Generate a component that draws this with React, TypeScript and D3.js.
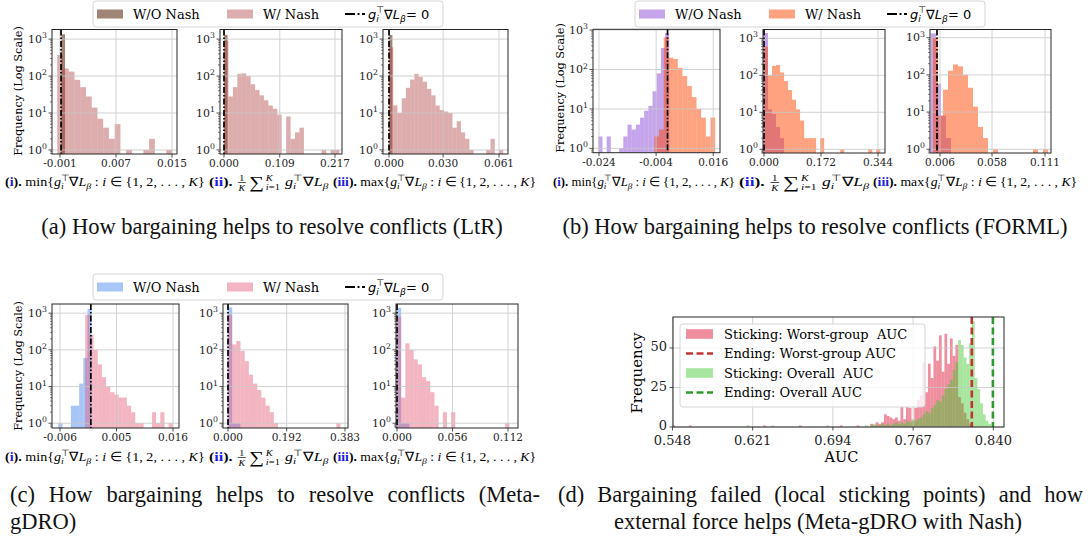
import React, { useLayoutEffect, useRef, useState } from 'react';
import * as d3 from 'd3';

const W = 1090;
const H = 541;
const SERIF = "'DejaVu Serif', serif";
const SANS = "'DejaVu Sans', sans-serif";
const TIMES = "'Liberation Serif', 'Times New Roman', serif";
const LINK = '#1c1ce6';

const fmt3 = d3.formatLocale({ decimal: '.', thousands: ',', grouping: [3], currency: ['', ''], minus: '-' }).format('.3f');

// ---------- (a) LtR : histogram bins (start, bin width, counts) ----------
const ltrMinWo = { start: -0.00081, width: 0.00053, counts: [1350] };
const ltrMinW = { start: -0.00139, width: 0.00082, counts: [370, 160, 132, 79, 50, 28, 14, 7, 4, 2, 5, 0, 1, 0, 0, 1, 2, 0, 0, 1] };
const ltrMinTicks = [-0.001, 0.007, 0.015];
const ltrAvgWo = { start: 0, width: 0.007, counts: [1300] };
const ltrAvgW = { start: 0, width: 0.00868, counts: [900, 28, 50, 115, 118, 100, 60, 42, 30, 22, 16, 13, 9, 0, 8, 2, 3, 4, 0, 0, 0, 0, 1, 0, 1, 1] };
const ltrAvgTicks = [0, 0.109, 0.217];
const ltrMaxWo = { start: 0, width: 0.0019, counts: [1300] };
const ltrMaxW = { start: 0, width: 0.002346, counts: [600, 16, 10, 25, 48, 80, 115, 95, 70, 45, 30, 16, 12, 11, 10, 4, 6, 3, 2, 1, 0, 0, 0, 1, 2, 0, 1] };
const ltrMaxTicks = [0, 0.03, 0.061];

// ---------- (b) FORML ----------
const formlMinWo = { start: -0.02425, width: 0.001462, counts: [2, 0, 2, 0, 0, 1, 2, 4, 3, 4, 6, 9, 12, 28, 80, 350, 850] };
const formlMinW = { start: -0.0046, width: 0.001637, counts: [2, 3, 650, 200, 185, 110, 68, 38, 20, 10, 6, 2, 6] };
const formlMinTicks = [-0.024, -0.004, 0.016];
const formlAvgWo = { start: 0, width: 0.0121, counts: [1400, 12, 9, 4, 2] };
const formlAvgW = { start: 0, width: 0.0121, counts: [600, 100, 180, 190, 120, 70, 40, 22, 12, 6, 2, 2, 2, 0, 2, 0, 0, 0, 0, 1, 0, 0, 0, 0, 0, 0, 1, 0, 1] };
const formlAvgTicks = [0, 0.172, 0.344];
const formlMaxWo = { start: -0.003, width: 0.005, counts: [1300, 58, 8, 2] };
const formlMaxW = { start: -0.001, width: 0.005, counts: [1000, 8, 40, 130, 190, 170, 100, 45, 14, 4, 2, 0, 1, 0, 0, 0, 0, 0, 0, 0, 1, 0, 1] };
const formlMaxTicks = [0.006, 0.058, 0.111];

// ---------- (c) Meta-gDRO ----------
const gdroMinWo = { start: -0.00633, width: 0.000812, counts: [1, 0, 0, 3, 3, 12, 60, 1300] };
const gdroMinW = { start: -0.00109, width: 0.000812, counts: [900, 257, 100, 40, 18, 10, 7, 6, 5, 5, 3, 2, 1, 1, 0, 0, 2, 1, 2, 0, 1] };
const gdroMinTicks = [-0.006, 0.005, 0.016];
const gdroAvgWo = { start: 0, width: 0.01364, counts: [1440, 1, 1] };
const gdroAvgW = { start: 0, width: 0.01364, counts: [900, 141, 174, 93, 49, 21, 12, 8, 5, 3, 2, 1, 0, 0, 0, 0, 0, 0, 0, 0, 0, 0, 0, 0, 0, 0, 1] };
const gdroAvgTicks = [0, 0.192, 0.383];
const gdroMaxWo = { start: 0, width: 0.0042, counts: [1400, 1, 1] };
const gdroMaxW = { start: 0, width: 0.0042, counts: [800, 5, 150, 100, 55, 40, 18, 14, 7, 3, 0, 2, 0, 2, 0, 0, 0, 0, 0, 0, 0, 0, 0, 0, 0, 0, 1] };
const gdroMaxTicks = [0, 0.056, 0.112];

// ---------- (d) AUC histograms: [bin index, count] ----------
const aucBinStart = 0.548;
const aucBinWidth = 0.0025;
const stickWorst: [number, number][] = [
  [0, 1], [6, 1], [33, 1], [46, 1], [61, 1], [67, 1], [72, 2], [73, 1], [74, 3], [75, 2], [76, 3], [77, 8], [78, 7],
  [79, 6], [80, 5], [81, 6], [82, 4], [83, 13], [84, 5], [85, 13], [86, 12], [87, 4], [88, 12], [89, 17], [90, 20],
  [91, 41], [92, 22], [93, 40], [94, 31], [95, 51], [96, 42], [97, 58], [98, 35], [99, 59], [100, 40], [101, 56],
  [102, 45], [103, 52], [104, 19], [105, 15], [106, 9], [107, 5], [108, 2],
];
const stickOverall: [number, number][] = [
  [27, 1], [36, 1], [56, 1], [70, 1], [72, 1], [73, 2], [74, 1], [75, 1], [76, 2], [77, 1], [78, 2], [79, 1], [80, 2],
  [81, 3], [82, 2], [83, 3], [84, 2], [85, 4], [86, 3], [87, 5], [88, 4], [89, 5], [90, 6], [91, 8], [92, 10], [93, 9],
  [94, 12], [95, 14], [96, 17], [97, 16], [98, 20], [99, 24], [100, 27], [101, 30], [102, 36], [103, 41], [104, 55],
  [105, 52], [106, 44], [107, 40], [108, 53], [109, 67], [110, 31], [111, 24], [112, 15], [113, 8], [114, 4], [115, 2],
];
const endWorst = 0.8204;
const endOverall = 0.8396;
const aucTicks = [0.548, 0.621, 0.694, 0.767, 0.84];
const freqTicks = [0, 25, 50];
const aucLegend = ['Sticking: Worst-group  AUC', 'Ending: Worst-group AUC', 'Sticking: Overall  AUC', 'Ending: Overall AUC'];

const seriesNames = ['W/O Nash', 'W/ Nash'];

type Hist = { start: number; width: number; counts: number[] };
type Col = { wo: [string, number]; w: [string, number] };

const ltrColors: Col = { wo: ['rgb(120,80,60)', 0.7], w: ['rgb(180,70,70)', 0.45] };
const formlColors: Col = { wo: ['rgb(150,90,220)', 0.55], w: ['rgb(255,69,0)', 0.5] };
const gdroColors: Col = { wo: ['rgb(80,140,240)', 0.5], w: ['rgb(230,90,120)', 0.45] };

type Sub = {
  id: string; l: number; r: number; t: number; b: number; dom: [number, number]; exp: [number, number];
  ticks: number[]; zero: number; wo: Hist; w: Hist; col: Col;
};

const rowA = { t: 29.5, b: 154, exp: [-0.11, 3.26] as [number, number] };
const rowC = { t: 304, b: 428, exp: [-0.13, 3.25] as [number, number] };

const subplots: Sub[] = [
  { id: 'a1', l: 52, r: 177, ...rowA, dom: [-0.00214, 0.01571], ticks: ltrMinTicks, zero: -0.00085, wo: ltrMinWo, w: ltrMinW, col: ltrColors },
  { id: 'a2', l: 220, r: 342, ...rowA, dom: [-0.00782, 0.2307], ticks: ltrAvgTicks, zero: 0, wo: ltrAvgWo, w: ltrAvgW, col: ltrColors },
  { id: 'a3', l: 383, r: 508, ...rowA, dom: [-0.00333, 0.066], ticks: ltrMaxTicks, zero: 0, wo: ltrMaxWo, w: ltrMaxW, col: ltrColors },
  { id: 'b1', l: 593, r: 720, t: 29.3, b: 152.7, exp: [-0.11, 3.02], dom: [-0.0261, 0.01837], ticks: formlMinTicks, zero: 0, wo: formlMinWo, w: formlMinW, col: formlColors },
  { id: 'b2', l: 763, r: 885, t: 29.5, b: 153, exp: [-0.1, 3.24], dom: [-0.003, 0.3651], ticks: formlAvgTicks, zero: 0, wo: formlAvgWo, w: formlAvgW, col: formlColors },
  { id: 'b3', l: 930, r: 1051, t: 29.5, b: 153, exp: [-0.1, 3.22], dom: [-0.004, 0.117], ticks: formlMaxTicks, zero: 0.003, wo: formlMaxWo, w: formlMaxW, col: formlColors },
  { id: 'c1', l: 52, r: 179, ...rowC, dom: [-0.00756, 0.01717], ticks: gdroMinTicks, zero: 0, wo: gdroMinWo, w: gdroMinW, col: gdroColors },
  { id: 'c2', l: 223, r: 348, ...rowC, dom: [-0.01637, 0.3928], ticks: gdroAvgTicks, zero: 0, wo: gdroAvgWo, w: gdroAvgW, col: gdroColors },
  { id: 'c3', l: 396, r: 518, ...rowC, dom: [-0.001, 0.1221], ticks: gdroMaxTicks, zero: 0, wo: gdroMaxWo, w: gdroMaxW, col: gdroColors },
];

const GRID = '#c8c8c8';
const SPINE = '#262626';
const DASHDOT = '6,2,1.5,2';

type Seg = { t: string; it?: boolean; b?: boolean; c?: string; pos?: 'sub' | 'sup'; dx?: number };

function Tspans({ segs, size }: { segs: Seg[]; size: number }) {
  let cur = 0;
  return (
    <>
      {segs.map((s, i) => {
        const target = s.pos === 'sub' ? size * 0.25 : s.pos === 'sup' ? -size * 0.42 : 0;
        const dy = target - cur;
        cur = target;
        return (
          <tspan key={i} dx={s.dx} dy={dy !== 0 ? dy : undefined} fontSize={s.pos ? size * 0.7 : undefined}
            fontStyle={s.it ? 'italic' : undefined} fontWeight={s.b ? 'bold' : undefined} fill={s.c}>{s.t}</tspan>
        );
      })}
    </>
  );
}

const gradSegs = (size: number): Seg[] => [
  { t: 'g', it: true }, { t: 'i', it: true, pos: 'sub' }, { t: '⊤', pos: 'sup', dx: -size * 0.2 },
  { t: '∇' }, { t: 'L', it: true }, { t: 'β', it: true, pos: 'sub' },
];

function FitText({ x, y, width, children }: { x: number; y: number; width: number; children: React.ReactNode }) {
  const ref = useRef<SVGGElement>(null);
  const [fit, setFit] = useState({ s: 1, x0: 0 });
  useLayoutEffect(() => {
    if (!ref.current) return;
    const bb = ref.current.getBBox();
    if (bb.width > 0) setFit({ s: width / bb.width, x0: bb.x });
  }, [width]);
  return (
    <g transform={`translate(${x - fit.x0 * fit.s},${y}) scale(${fit.s},1)`}>
      <g ref={ref}>{children}</g>
    </g>
  );
}

// one caption line stretched to a width by widening the word gaps (LaTeX-style justification)
function Justified({ x, y, width, text }: { x: number; y: number; width: number; text: string }) {
  const ref = useRef<SVGTextElement>(null);
  const [ws, setWs] = useState(0);
  useLayoutEffect(() => {
    if (!ref.current) return;
    const natural = ref.current.getComputedTextLength();
    const gaps = text.split(' ').length - 1;
    if (gaps > 0) setWs((width - natural) / gaps);
  }, [width, text]);
  return <text ref={ref} x={x} y={y} wordSpacing={ws}>{text}</text>;
}

function SetPiece({ kind, size }: { kind: 'min' | 'max'; size: number }) {
  const lab = kind === 'min' ? 'i' : 'iii';
  const segs: Seg[] = [
    { t: '(', b: true }, { t: lab, b: true, c: LINK }, { t: '). ', b: true }, { t: kind + '{' },
    ...gradSegs(size), { t: ' : ' }, { t: 'i', it: true }, { t: ' ∈ {1, 2, . . . , ' }, { t: 'K', it: true }, { t: '}' },
  ];
  return (
    <text fontFamily={TIMES} fontSize={size} style={{ whiteSpace: 'pre' }}>
      <Tspans segs={segs} size={size} />
    </text>
  );
}

function AvgPiece({ size }: { size: number }) {
  const s = size;
  return (
    <g fontFamily={TIMES} fontSize={s}>
      <text style={{ whiteSpace: 'pre' }}>
        <tspan fontWeight="bold">(</tspan><tspan fontWeight="bold" fill={LINK}>ii</tspan><tspan fontWeight="bold">).</tspan>
      </text>
      <text x={s * 2.05} y={-s * 0.36} fontSize={s * 0.62} textAnchor="middle">1</text>
      <line x1={s * 1.8} x2={s * 2.3} y1={-s * 0.27} y2={-s * 0.27} stroke="#000" strokeWidth={0.6} />
      <text x={s * 2.05} y={s * 0.4} fontSize={s * 0.62} fontStyle="italic" textAnchor="middle">K</text>
      <text x={s * 2.5} y={s * 0.12} fontSize={s * 1.3}>∑</text>
      <text x={s * 3.55} y={-s * 0.42} fontSize={s * 0.66} fontStyle="italic">K</text>
      <text x={s * 3.55} y={s * 0.33} fontSize={s * 0.66}><tspan fontStyle="italic">i</tspan>=1</text>
      <text x={s * 4.75} style={{ whiteSpace: 'pre' }}><Tspans segs={gradSegs(s)} size={s} /></text>
    </g>
  );
}

function LogHist({ sp }: { sp: Sub }) {
  const x = d3.scaleLinear().domain(sp.dom).range([sp.l, sp.r]);
  const y = d3.scaleLog().domain([10 ** sp.exp[0], 10 ** sp.exp[1]]).range([sp.b, sp.t]);
  const majors = [1, 10, 100, 1000].filter((v) => v >= y.domain()[0] && v <= y.domain()[1]);
  const minors: number[] = [];
  for (let d = -1; d <= 3; d++) for (let k = 2; k <= 9; k++) {
    const v = k * 10 ** d;
    if (v > y.domain()[0] && v < y.domain()[1]) minors.push(v);
  }
  const bars = (h: Hist, col: [string, number], key: string) => (
    <g fill={col[0]} fillOpacity={col[1]} clipPath={`url(#clip-${sp.id})`}>
      {h.counts.map((c, i) => {
        if (c <= 0) return null;
        const x0 = x(h.start + i * h.width);
        const x1 = x(h.start + (i + 1) * h.width);
        return <rect key={key + i} x={x0} width={x1 - x0} y={y(c)} height={sp.b - y(c)} />;
      })}
    </g>
  );
  return (
    <g>
      <clipPath id={`clip-${sp.id}`}><rect x={sp.l} y={sp.t} width={sp.r - sp.l} height={sp.b - sp.t} /></clipPath>
      {bars(sp.wo, sp.col.wo, 'wo')}
      {bars(sp.w, sp.col.w, 'w')}
      <g stroke={GRID} strokeWidth={1} opacity={0.8}>
        {sp.ticks.map((t) => <line key={'gx' + t} x1={x(t)} x2={x(t)} y1={sp.t} y2={sp.b} />)}
        {majors.map((v) => <line key={'gy' + v} x1={sp.l} x2={sp.r} y1={y(v)} y2={y(v)} />)}
      </g>
      <line x1={x(sp.zero)} x2={x(sp.zero)} y1={sp.t} y2={sp.b} stroke="#000" strokeWidth={1.7} strokeDasharray={DASHDOT} />
      <rect x={sp.l} y={sp.t} width={sp.r - sp.l} height={sp.b - sp.t} fill="none" stroke={SPINE} strokeWidth={1} />
      <g stroke={SPINE} strokeWidth={0.8}>
        {sp.ticks.map((t) => <line key={'tx' + t} x1={x(t)} x2={x(t)} y1={sp.b} y2={sp.b + 3.5} />)}
        {majors.map((v) => <line key={'ty' + v} x1={sp.l - 3.5} x2={sp.l} y1={y(v)} y2={y(v)} />)}
        {minors.map((v) => <line key={'tm' + v} x1={sp.l - 2} x2={sp.l} y1={y(v)} y2={y(v)} strokeWidth={0.6} />)}
      </g>
      <g fontFamily={SERIF} fontSize={10.5} fill="#222">
        {sp.ticks.map((t) => <text key={'lx' + t} x={x(t)} y={sp.b + 13} textAnchor="middle">{fmt3(t)}</text>)}
        {majors.map((v) => (
          <text key={'ly' + v} x={sp.l - 5} y={y(v) + 3.8} textAnchor="end" fontSize={11}>
            10<tspan dy={-4.8} fontSize={7.8}>{Math.round(Math.log10(v))}</tspan>
          </text>
        ))}
      </g>
    </g>
  );
}

function TopLegend({ x, y, col }: { x: number; y: number; col: Col }) {
  const cy = y + 13;
  return (
    <g>
      <rect x={x} y={y} width={350} height={26} rx={3} fill="#fff" fillOpacity={0.85} stroke="#d6d6d6" />
      <rect x={x + 4} y={cy - 4.5} width={26} height={9} fill={col.wo[0]} fillOpacity={col.wo[1]} />
      <text x={x + 40} y={cy + 4.6} fontFamily={SERIF} fontSize={13}>{seriesNames[0]}</text>
      <rect x={x + 134} y={cy - 4.5} width={26} height={9} fill={col.w[0]} fillOpacity={col.w[1]} />
      <text x={x + 170} y={cy + 4.6} fontFamily={SERIF} fontSize={13}>{seriesNames[1]}</text>
      <line x1={x + 252} x2={x + 272} y1={cy} y2={cy} stroke="#000" strokeWidth={2} strokeDasharray="10,2.5,2,2.5" />
      <text x={x + 275} y={cy + 4.6} fontFamily={SANS} fontSize={13} style={{ whiteSpace: 'pre' }}>
        <Tspans segs={[...gradSegs(13), { t: '= 0' }]} size={13} />
      </text>
    </g>
  );
}

function AucPanel() {
  const l = 673, r = 1004, t = 317, b = 427;
  const x = d3.scaleLinear().domain([0.5485, 0.8497]).range([l, r]);
  const y = d3.scaleLinear().domain([0, 69.6]).range([b, t]);
  const pink: [string, number] = ['rgb(225,50,80)', 0.55];
  const green: [string, number] = ['rgb(60,200,40)', 0.45];
  const bars = (data: [number, number][], col: [string, number]) => (
    <g fill={col[0]} fillOpacity={col[1]} clipPath="url(#clip-d)">
      {data.map(([i, c]) => {
        const x0 = x(aucBinStart + i * aucBinWidth);
        const x1 = x(aucBinStart + (i + 1) * aucBinWidth);
        return <rect key={i} x={x0} width={x1 - x0} y={y(c)} height={b - y(c)} />;
      })}
    </g>
  );
  const legY = [334, 353.5, 373, 392.5];
  return (
    <g>
      <clipPath id="clip-d"><rect x={l} y={t} width={r - l} height={b - t} /></clipPath>
      {bars(stickWorst, pink)}
      {bars(stickOverall, green)}
      <g stroke={GRID} strokeWidth={1} opacity={0.8}>
        {aucTicks.map((v) => <line key={'g' + v} x1={x(v)} x2={x(v)} y1={t} y2={b} />)}
        {freqTicks.map((v) => <line key={'h' + v} x1={l} x2={r} y1={y(v)} y2={y(v)} />)}
      </g>
      <line x1={x(endWorst)} x2={x(endWorst)} y1={t} y2={b} stroke="#c23434" strokeWidth={2.6} strokeDasharray="7,3.5" />
      <line x1={x(endOverall)} x2={x(endOverall)} y1={t} y2={b} stroke="#2f9a2f" strokeWidth={2.6} strokeDasharray="7,3.5" />
      <rect x={l} y={t} width={r - l} height={b - t} fill="none" stroke={SPINE} strokeWidth={1} />
      <g stroke={SPINE} strokeWidth={0.8}>
        {aucTicks.map((v) => <line key={'t' + v} x1={x(v)} x2={x(v)} y1={b} y2={b + 3.5} />)}
        {freqTicks.map((v) => <line key={'u' + v} x1={l - 3.5} x2={l} y1={y(v)} y2={y(v)} />)}
      </g>
      <g fontFamily={SERIF} fontSize={13} fill="#222">
        {aucTicks.map((v) => <text key={'a' + v} x={x(v)} y={b + 17.5} textAnchor="middle">{fmt3(v)}</text>)}
        {freqTicks.map((v) => <text key={'f' + v} x={l - 6} y={y(v) + 3.2} textAnchor="end">{v}</text>)}
      </g>
      <text x={(l + r) / 2 + 3} y={462} textAnchor="middle" fontFamily={SERIF} fontSize={14.5}>AUC</text>
      <text transform={`translate(642,${(t + b) / 2 + 1}) rotate(-90)`} textAnchor="middle" fontFamily={SERIF} fontSize={15}>Frequency</text>
      <g>
        <rect x={680} y={324} width={245} height={83} rx={3} fill="#fff" fillOpacity={0.8} stroke="#d6d6d6" />
        <rect x={686} y={legY[0] - 4.8} width={27} height={9.6} fill={pink[0]} fillOpacity={pink[1]} />
        <line x1={686} x2={713} y1={legY[1]} y2={legY[1]} stroke="#c23434" strokeWidth={2.6} strokeDasharray="7,3.5" />
        <rect x={686} y={legY[2] - 4.8} width={27} height={9.6} fill={green[0]} fillOpacity={green[1]} />
        <line x1={686} x2={713} y1={legY[3]} y2={legY[3]} stroke="#2f9a2f" strokeWidth={2.6} strokeDasharray="7,3.5" />
        {aucLegend.map((s, i) => (
          <text key={s} x={724} y={legY[i] + 4.6} fontFamily={SERIF} fontSize={13} style={{ whiteSpace: 'pre' }}>{s}</text>
        ))}
      </g>
    </g>
  );
}

const captionRows = [
  { y: 186, pieces: [[5, 200], [209, 120], [333, 204]] },
  { y: 186, pieces: [[553, 182], [739, 131], [873, 205]] },
  { y: 461, pieces: [[5, 200], [209, 120], [333, 204]] },
];

export default function App() {
  return (
    <svg width={W} height={H} viewBox={`0 0 ${W} ${H}`} style={{ position: 'absolute', left: 0, top: 0, background: '#fff' }}>
      <rect width={W} height={H} fill="#fff" />
      {subplots.map((sp) => <LogHist key={sp.id} sp={sp} />)}
      <g fontFamily={SERIF} fontSize={11.3} style={{ whiteSpace: 'pre' }}>
        <text transform="translate(22,91) rotate(-90)" textAnchor="middle">Frequency  (Log Scale)</text>
        <text transform="translate(564,88) rotate(-90)" textAnchor="middle">Frequency  (Log Scale)</text>
        <text transform="translate(22,366) rotate(-90)" textAnchor="middle">Frequency  (Log Scale)</text>
      </g>
      <TopLegend x={93} y={1} col={ltrColors} />
      <TopLegend x={635} y={1} col={formlColors} />
      <TopLegend x={93} y={274} col={gdroColors} />
      <AucPanel />
      {captionRows.map((row, ri) => (
        <g key={ri}>
          <FitText x={row.pieces[0][0]} y={row.y} width={row.pieces[0][1]}><SetPiece kind="min" size={13} /></FitText>
          <FitText x={row.pieces[1][0]} y={row.y} width={row.pieces[1][1]}><AvgPiece size={13} /></FitText>
          <FitText x={row.pieces[2][0]} y={row.y} width={row.pieces[2][1]}><SetPiece kind="max" size={13} /></FitText>
        </g>
      ))}
      <g fontFamily={TIMES} fontSize={22.5} fill="#111">
        <text x={272} y={234} textAnchor="middle">(a) How bargaining helps to resolve conflicts (LtR)</text>
        <text x={815} y={234} textAnchor="middle">(b) How bargaining helps to resolve conflicts (FORML)</text>
        <Justified x={10} y={502} width={530} text="(c) How bargaining helps to resolve conflicts (Meta-" />
        <text x={10} y={529}>gDRO)</text>
        <Justified x={558} y={502} width={525} text="(d) Bargaining failed (local sticking points) and how" />
        <text x={818} y={529} textAnchor="middle">external force helps (Meta-gDRO with Nash)</text>
      </g>
    </svg>
  );
}
